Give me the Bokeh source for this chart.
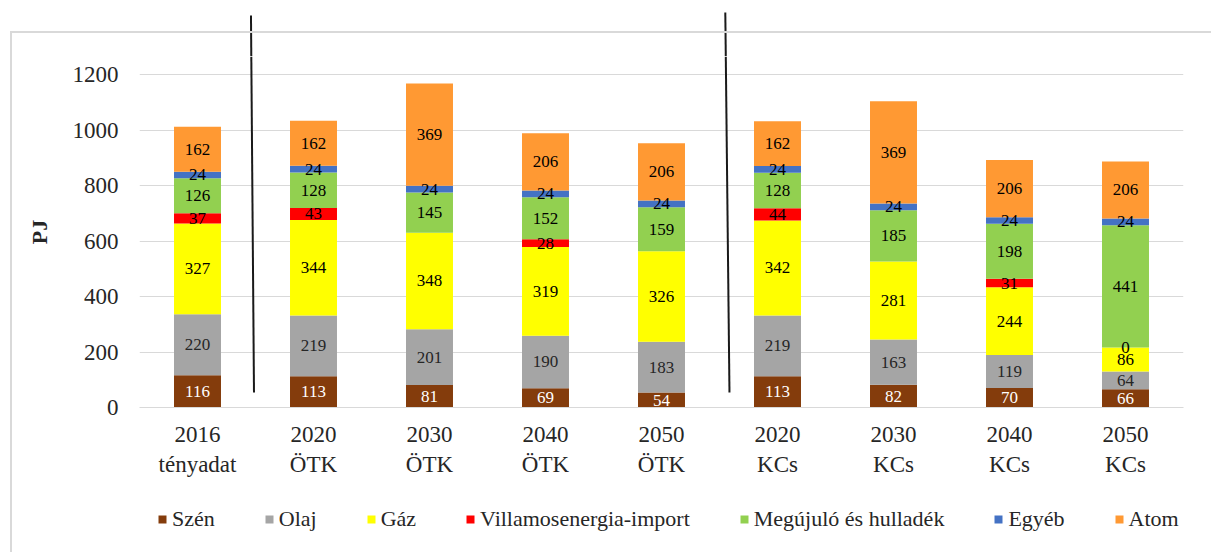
import numpy as np
from bokeh.plotting import figure
from bokeh.layouts import column
from bokeh.models import (ColumnDataSource, LabelSet, Legend, LegendItem, Range1d,
                          FactorRange, FixedTicker, InlineStyleSheet)
from bokeh.embed import file_html
from bokeh.resources import INLINE

categories = ["2016\ntényadat", "2020\nÖTK", "2030\nÖTK", "2040\nÖTK", "2050\nÖTK",
              "2020\nKCs", "2030\nKCs", "2040\nKCs", "2050\nKCs"]
szen = [116, 113, 81, 69, 54, 113, 82, 70, 66]
olaj = [220, 219, 201, 190, 183, 219, 163, 119, 64]
gaz = [327, 344, 348, 319, 326, 342, 281, 244, 86]
villamos = [37, 43, None, 28, None, 44, None, 31, 0]
megujulo = [126, 128, 145, 152, 159, 128, 185, 198, 441]
egyeb = [24, 24, 24, 24, 24, 24, 24, 24, 24]
atom = [162, 162, 369, 206, 206, 162, 369, 206, 206]
y_ticks = [0, 200, 400, 600, 800, 1000, 1200]

series_names = ["Szén", "Olaj", "Gáz", "Villamosenergia-import",
                "Megújuló és hulladék", "Egyéb", "Atom"]
series_values = [szen, olaj, gaz, villamos, megujulo, egyeb, atom]
colors = ["#843C0C", "#A5A5A5", "#FFFF00", "#FF0000", "#92D050", "#4472C4", "#FF9933"]
label_colors = ["#FFFFFF", "#262626", "#000000", "#000000", "#000000", "#000000", "#000000"]

FONT = "Liberation Serif"
x_range = FactorRange(*categories)


def bare(fig):
    fig.grid.visible = False
    fig.outline_line_color = None
    fig.background_fill_alpha = 0
    fig.border_fill_alpha = 0


# strip above the plot area: upper part of the hand-drawn separator lines
ps = figure(x_range=x_range, y_range=Range1d(0, 56), width=1211, height=56,
            output_backend="svg", toolbar_location=None,
            x_axis_location=None, y_axis_location=None,
            min_border_left=139, min_border_right=28, min_border_top=0,
            min_border_bottom=0)
bare(ps)
ps.segment(x0=[0.961, 5.05], y0=[41, 44], x1=[0.9638, 5.0542], y1=[0, 0],
           line_color="#1A1A1A", line_width=2)

# main chart
p = figure(x_range=x_range, y_range=Range1d(0, 1265),
           width=1211, height=434, output_backend="svg", toolbar_location=None,
           min_border_left=139, min_border_right=28, min_border_top=0,
           min_border_bottom=83)
p.outline_line_color = None
p.background_fill_alpha = 0
p.border_fill_alpha = 0

bottom = np.zeros(len(categories))
for name, vals, col, lcol in zip(series_names, series_values, colors, label_colors):
    v = np.array([0 if x is None else x for x in vals], dtype=float)
    top = bottom + v
    src = ColumnDataSource(dict(
        x=categories, bottom=bottom.copy(), top=top, mid=(bottom + top) / 2,
        label=["" if x is None else str(x) for x in vals]))
    p.vbar(x="x", bottom="bottom", top="top", width=0.405, source=src,
           fill_color=col, line_color=None)
    p.add_layout(LabelSet(x="x", y="mid", text="label", source=src,
                          text_align="center", text_baseline="middle",
                          text_font=FONT, text_font_size="17px", text_color=lcol))
    bottom = top

# lower part of the separator lines
p.segment(x0=[0.9638, 5.0542], y0=[1265, 1265], x1=[0.987, 5.086], y1=[54, 54],
          line_color="#1A1A1A", line_width=2)

# y axis
p.yaxis.ticker = FixedTicker(ticks=y_ticks)
p.yaxis.axis_label = "PJ"
p.yaxis.axis_label_text_font = FONT
p.yaxis.axis_label_text_font_size = "22px"
p.yaxis.axis_label_text_font_style = "bold"
p.yaxis.axis_label_text_color = "#262626"
p.yaxis.axis_label_standoff = 18
p.yaxis.major_label_text_font = FONT
p.yaxis.major_label_text_font_size = "23px"
p.yaxis.major_label_text_color = "#262626"
p.yaxis.major_label_standoff = 21
p.yaxis.axis_line_color = None
p.yaxis.major_tick_line_color = None
p.yaxis.minor_tick_line_color = None
p.yaxis.major_tick_out = 0
p.yaxis.major_tick_in = 0

# x axis
p.xaxis.major_label_text_font = FONT
p.xaxis.major_label_text_font_size = "23px"
p.xaxis.major_label_text_color = "#262626"
p.xaxis.major_label_standoff = 14
p.xaxis.axis_line_color = "#D9D9D9"
p.xaxis.axis_line_width = 1
p.xaxis.major_tick_line_color = None
p.xaxis.minor_tick_line_color = None
p.xaxis.major_tick_out = 0
p.xaxis.major_tick_in = 0

p.xgrid.visible = False
p.ygrid.grid_line_color = "#D9D9D9"
p.ygrid.grid_line_width = 1

# legend strip below the chart
pl = figure(width=1211, height=62, output_backend="svg", toolbar_location=None,
            x_range=Range1d(0, 1), y_range=Range1d(0, 1),
            x_axis_location=None, y_axis_location=None,
            min_border_left=139, min_border_right=28, min_border_top=0,
            min_border_bottom=0)
bare(pl)
items = []
for name, col in zip(series_names, colors):
    # zero-height bar outside the view: only its legend swatch is seen
    r = pl.vbar(x=[-5], top=[-5], bottom=[-5], width=0.1, fill_color=col, line_color=None)
    items.append(LegendItem(label=name, renderers=[r]))
legend = Legend(items=items, orientation="horizontal", location=(18, 20),
                glyph_width=10, glyph_height=10, label_standoff=5, spacing=49,
                label_text_font=FONT, label_text_font_size="22px",
                label_text_color="#262626", padding=0, margin=0,
                border_line_color=None, background_fill_alpha=0, label_height=22)
pl.add_layout(legend)

border_css = InlineStyleSheet(css="""
:host::after {
  content: '';
  position: absolute;
  left: 10px; top: 31px; right: 0px; bottom: 0px;
  border-top: 2px solid #D9D9D9;
  border-left: 2px solid #D9D9D9;
  pointer-events: none;
}
""")
layout = column(ps, p, pl, spacing=0, stylesheets=[border_css])

open("out.html", "w").write(file_html(layout, INLINE))
